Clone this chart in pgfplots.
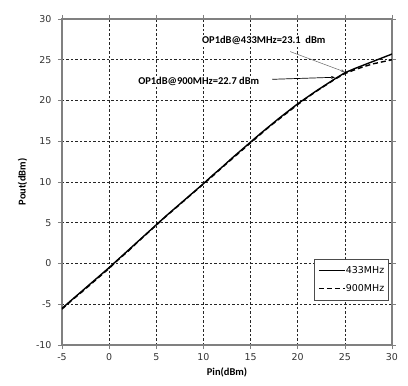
\documentclass[border=0pt]{standalone}
\usepackage{fontspec}
\setmainfont{DejaVu Sans}
\newfontfamily\lblfont{Carlito}
\usepackage{pgfplots}
\pgfplotsset{compat=1.18}
\usetikzlibrary{arrows.meta}
\begin{document}
\begin{tikzpicture}
\useasboundingbox (-62bp,-41bp) rectangle (346bp,345bp);
\begin{axis}[
  scale only axis,
  width=330bp, height=326bp,
  xmin=-5, xmax=30, ymin=-10, ymax=30,
  xtick={-5,0,5,10,15,20,25,30},
  ytick={-10,-5,0,5,10,15,20,25,30},
  /pgf/number format/assume math mode=true,
  ticklabel style={font=\fontsize{9.5}{11}\selectfont, text=black!80},
  yticklabel style={xshift=-3bp},
  xticklabel style={yshift=-1bp},
  tick align=outside,
  major tick length=4bp,
  tick style={gray, line width=0.6pt},
  axis line style={gray, line width=1.2pt},
  grid=major,
  major grid style={black!85, line width=0.55pt, dash pattern=on 2.5pt off 2pt},
  xlabel={\lblfont\bfseries Pin(dBm)},
  ylabel={\lblfont\bfseries Pout(dBm)},
  label style={font=\fontsize{10.5}{12}\selectfont},
  ylabel style={yshift=2bp},
  legend style={at={(0.991,0.264)}, anchor=north east, draw=black!70, line width=0.6pt,
    font=\fontsize{9.5}{10}\selectfont, cells={anchor=west}, row sep=6pt, inner xsep=4pt, inner ysep=5pt,
    nodes={inner xsep=0.5pt}},
  legend image code/.code={\draw[#1, line width=1.1pt] (0bp,0bp) -- (26bp,0bp);},
]
\addplot[black, line width=1.4pt] coordinates {
(-5,-5.5) (-4,-4.5) (-3,-3.5) (-2,-2.5) (-1,-1.5) (0,-0.5) (1,0.55) (2,1.6) (3,2.65) (4,3.7)
(5,4.75) (6,5.8) (7,6.8) (8,7.8) (9,8.8) (10,9.8) (11,10.85) (12,11.85) (13,12.9) (14,13.9)
(15,14.9) (16,15.9) (17,16.85) (18,17.8) (19,18.7) (20,19.6) (21,20.4) (22,21.2) (23,21.95)
(24,22.7) (25,23.4) (26,23.9) (27,24.35) (28,24.8) (29,25.25) (30,25.7)
};
\addlegendentry{433MHz}
\addplot[black, line width=1.4pt, dash pattern=on 5pt off 3pt] coordinates {
(-5,-5.6) (-4,-4.55) (-3,-3.6) (-2,-2.6) (-1,-1.6) (0,-0.6) (1,0.5) (2,1.5) (3,2.6) (4,3.65)
(5,4.7) (6,5.75) (7,6.75) (8,7.75) (9,8.75) (10,9.75) (11,10.75) (12,11.8) (13,12.8) (14,13.8)
(15,14.8) (16,15.8) (17,16.8) (18,17.7) (19,18.6) (20,19.5) (21,20.35) (22,21.15) (23,21.9)
(24,22.65) (25,23.3) (26,23.75) (27,24.15) (28,24.5) (29,24.75) (30,25.0)
};
\addlegendentry{900MHz}
\draw[gray!80!black, line width=0.5pt, -{Stealth[length=4pt,width=3pt]}] (axis cs:19.2,26.0) -- (axis cs:25.0,23.5);
\draw[black, line width=0.7pt, -{Stealth[length=4pt,width=3pt]}] (axis cs:17.3,22.6) -- (axis cs:23.95,22.85);
\node[font=\lblfont\bfseries\fontsize{10.5}{12}\selectfont, fill=white, inner sep=1pt] at (axis cs:16.4,27.42) {OP1dB@433MHz=23.1\ \ dBm};
\node[font=\lblfont\bfseries\fontsize{10.5}{12}\selectfont, fill=white, inner sep=1pt] at (axis cs:9.5,22.4) {OP1dB@900MHz=22.7 dBm};
\end{axis}
\end{tikzpicture}
\end{document}
